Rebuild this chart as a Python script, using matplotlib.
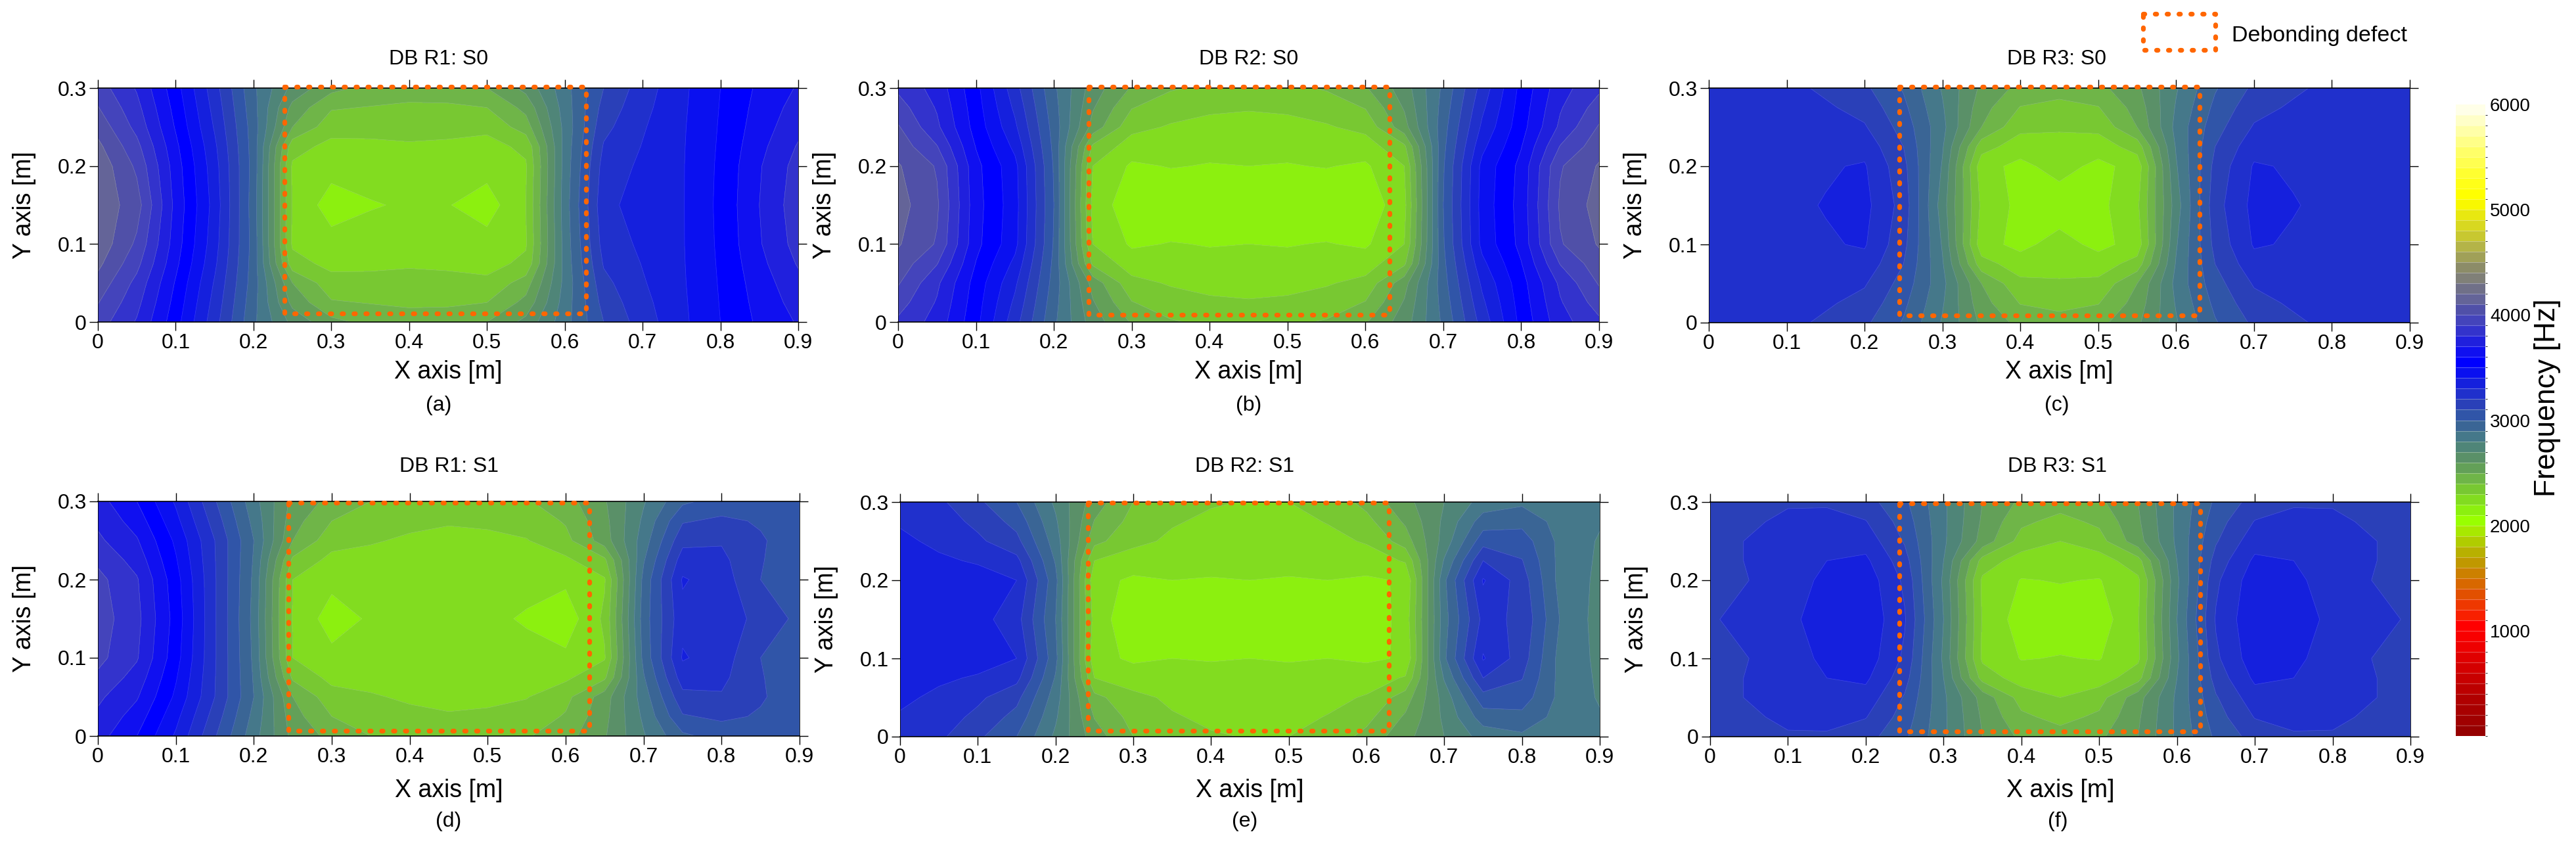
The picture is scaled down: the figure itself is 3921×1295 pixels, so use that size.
import numpy as np
import matplotlib
matplotlib.use("Agg")
import matplotlib.pyplot as plt
from matplotlib.colors import ListedColormap, BoundaryNorm
from matplotlib.lines import Line2D

plt.rcParams["font.family"] = ["Liberation Sans", "DejaVu Sans"]

W, H = 3921, 1295

# read-off grid, y rows are mirrored about y = 0.15
x_grid = [0, 0.05, 0.1, 0.15, 0.2, 0.25, 0.3, 0.35, 0.4, 0.45, 0.5, 0.55, 0.6, 0.65, 0.7, 0.75, 0.8, 0.85, 0.9]
y_grid = [0, 0.025, 0.05, 0.075, 0.1, 0.15, 0.2, 0.225, 0.25, 0.275, 0.3]

r1_s0 = [
    [3950, 3790, 3540, 3240, 2920, 2670, 2530, 2470, 2440, 2450, 2500, 2630, 2860, 3100, 3250, 3375, 3500, 3620, 3710],
    [4005, 3830, 3565, 3265, 2935, 2570, 2410, 2395, 2385, 2385, 2400, 2530, 2845, 3135, 3270, 3380, 3505, 3635, 3740],
    [4065, 3870, 3590, 3290, 2950, 2500, 2340, 2330, 2330, 2325, 2320, 2450, 2830, 3170, 3290, 3385, 3510, 3650, 3770],
    [4125, 3930, 3625, 3320, 2955, 2340, 2270, 2280, 2290, 2285, 2270, 2320, 2835, 3210, 3305, 3388, 3515, 3670, 3810],
    [4170, 3980, 3650, 3340, 2960, 2285, 2240, 2260, 2270, 2260, 2240, 2290, 2840, 3240, 3320, 3390, 3520, 3690, 3840],
    [4170, 4045, 3670, 3360, 2950, 2290, 2150, 2190, 2215, 2205, 2150, 2300, 2850, 3270, 3345, 3390, 3525, 3700, 3860],
]
r2_s0 = [
    [3880, 3760, 3530, 3240, 2920, 2650, 2490, 2410, 2380, 2370, 2380, 2410, 2490, 2650, 2920, 3240, 3530, 3760, 3880],
    [3945, 3790, 3545, 3280, 2940, 2610, 2405, 2345, 2320, 2310, 2320, 2345, 2405, 2610, 2940, 3280, 3545, 3790, 3945],
    [4010, 3820, 3560, 3320, 2960, 2560, 2330, 2290, 2265, 2255, 2265, 2290, 2330, 2560, 2960, 3320, 3560, 3820, 4010],
    [4060, 3905, 3595, 3375, 2975, 2380, 2250, 2240, 2225, 2220, 2225, 2240, 2250, 2380, 2975, 3375, 3595, 3905, 4060],
    [4110, 3990, 3630, 3430, 2990, 2300, 2185, 2205, 2195, 2200, 2195, 2205, 2185, 2300, 2990, 3430, 3630, 3990, 4110],
    [4140, 4015, 3640, 3440, 3000, 2270, 2130, 2120, 2110, 2110, 2110, 2120, 2130, 2270, 3000, 3440, 3640, 4015, 4140],
]
r3_s0 = [
    [3250, 3250, 3230, 3180, 3120, 2990, 2790, 2580, 2470, 2440, 2470, 2580, 2790, 2990, 3120, 3180, 3230, 3250, 3250],
    [3255, 3255, 3245, 3215, 3165, 3025, 2810, 2540, 2395, 2370, 2395, 2540, 2810, 3025, 3165, 3215, 3245, 3255, 3255],
    [3260, 3260, 3260, 3250, 3210, 3060, 2830, 2500, 2325, 2315, 2325, 2500, 2830, 3060, 3210, 3250, 3260, 3260, 3260],
    [3265, 3265, 3270, 3270, 3265, 3100, 2810, 2340, 2250, 2255, 2250, 2340, 2810, 3100, 3265, 3270, 3270, 3265, 3265],
    [3270, 3270, 3280, 3290, 3310, 3130, 2790, 2240, 2170, 2245, 2170, 2240, 2790, 3130, 3310, 3290, 3280, 3270, 3270],
    [3270, 3270, 3280, 3305, 3330, 3160, 2750, 2280, 2170, 2130, 2170, 2280, 2750, 3160, 3330, 3305, 3280, 3270, 3270],
]
r1_s1 = [
    [3740, 3600, 3385, 3110, 2840, 2570, 2470, 2400, 2370, 2360, 2370, 2390, 2460, 2590, 2790, 2980, 3040, 3060, 3050],
    [3780, 3655, 3430, 3155, 2870, 2540, 2400, 2350, 2325, 2310, 2320, 2340, 2410, 2570, 2820, 3090, 3120, 3090, 3050],
    [3820, 3710, 3480, 3200, 2900, 2500, 2340, 2310, 2285, 2270, 2275, 2295, 2370, 2550, 2850, 3170, 3190, 3110, 3050],
    [3880, 3760, 3510, 3205, 2890, 2380, 2270, 2265, 2255, 2250, 2250, 2255, 2280, 2380, 2890, 3250, 3225, 3105, 3055],
    [3930, 3810, 3540, 3210, 2880, 2300, 2230, 2240, 2240, 2235, 2235, 2230, 2220, 2290, 2930, 3310, 3250, 3100, 3060],
    [3950, 3830, 3560, 3210, 2870, 2290, 2150, 2215, 2230, 2230, 2220, 2190, 2140, 2320, 2950, 3270, 3290, 3150, 3080],
]
r2_s1 = [
    [3260, 3220, 3120, 3000, 2780, 2550, 2400, 2340, 2310, 2295, 2300, 2340, 2430, 2570, 2700, 2840, 2880, 2850, 2830],
    [3290, 3250, 3175, 3065, 2815, 2495, 2365, 2310, 2280, 2265, 2270, 2305, 2370, 2515, 2720, 2950, 2970, 2860, 2810],
    [3320, 3280, 3220, 3130, 2850, 2430, 2330, 2280, 2250, 2240, 2245, 2270, 2310, 2450, 2740, 3060, 3050, 2870, 2790],
    [3330, 3315, 3290, 3230, 2890, 2300, 2245, 2235, 2225, 2220, 2220, 2235, 2250, 2310, 2810, 3200, 3105, 2865, 2785],
    [3340, 3340, 3340, 3300, 2930, 2230, 2185, 2200, 2195, 2200, 2195, 2200, 2185, 2210, 2880, 3310, 3150, 2860, 2780],
    [3350, 3350, 3340, 3240, 2900, 2260, 2120, 2130, 2130, 2130, 2130, 2120, 2130, 2240, 2860, 3230, 3180, 2890, 2760],
]
r3_s1 = [
    [3130, 3160, 3190, 3190, 3140, 3020, 2820, 2600, 2480, 2440, 2480, 2600, 2820, 3020, 3140, 3190, 3190, 3160, 3130],
    [3150, 3185, 3220, 3225, 3205, 3055, 2820, 2585, 2420, 2370, 2420, 2585, 2820, 3055, 3205, 3225, 3220, 3185, 3150],
    [3170, 3205, 3250, 3260, 3260, 3090, 2820, 2560, 2360, 2300, 2360, 2560, 2820, 3090, 3260, 3260, 3250, 3205, 3170],
    [3170, 3205, 3255, 3300, 3320, 3140, 2800, 2360, 2250, 2240, 2250, 2360, 2800, 3140, 3320, 3300, 3255, 3205, 3170],
    [3170, 3200, 3260, 3320, 3360, 3180, 2780, 2280, 2195, 2205, 2195, 2280, 2780, 3180, 3360, 3320, 3260, 3200, 3170],
    [3190, 3230, 3270, 3360, 3380, 3210, 2800, 2290, 2150, 2150, 2150, 2290, 2800, 3210, 3380, 3360, 3270, 3230, 3190],
]

titles = ["DB R1: S0", "DB R2: S0", "DB R3: S0", "DB R1: S1", "DB R2: S1", "DB R3: S1"]
letters = ["(a)", "(b)", "(c)", "(d)", "(e)", "(f)"]
fields = [r1_s0, r2_s0, r3_s0, r1_s1, r2_s1, r3_s1]

# defect box per panel: x0, x1, y0, y1
defect_boxes = [
    (0.240, 0.627, 0.011, 0.3015),
    (0.2447, 0.631, 0.009, 0.302),
    (0.2445, 0.630, 0.009, 0.302),
    (0.244, 0.630, 0.007, 0.2985),
    (0.2415, 0.6285, 0.0073, 0.2995),
    (0.2435, 0.6295, 0.007, 0.2985),
]

x_ticks = [0, 0.1, 0.2, 0.3, 0.4, 0.5, 0.6, 0.7, 0.8, 0.9]
x_labels = ["0", "0.1", "0.2", "0.3", "0.4", "0.5", "0.6", "0.7", "0.8", "0.9"]
y_ticks = [0, 0.1, 0.2, 0.3]
y_labels = ["0", "0.1", "0.2", "0.3"]

cbar_ticks = [1000, 2000, 3000, 4000, 5000, 6000]
levels = list(range(0, 6100, 100))

# one colour per 100 Hz band, from 0 up
band_colors = [
    "#960000", "#a00000", "#a80000", "#b00000", "#bc0000", "#c80000", "#d40000", "#e00000", "#ee0000", "#f80000",
    "#ff0000", "#f82000", "#ee3800", "#e25000", "#d86800", "#cc8000", "#c09800", "#b8b000", "#b0cc00", "#a8e800",
    "#99ff00", "#8cf00f", "#82dc20", "#78c832", "#6fb548", "#63a058", "#5a9068", "#4f8578", "#45788a", "#3a6595",
    "#3055a8", "#2a40b8", "#2030cc", "#1520dd", "#0a10f0", "#0000ff", "#1010f0", "#2020dd", "#3333cc", "#4444bb",
    "#5050a8", "#646498", "#707088", "#808078", "#8c8c68", "#a0a058", "#b4b448", "#c8c830", "#d8d820", "#e8e810",
    "#f8f800", "#ffff00", "#ffff18", "#ffff30", "#ffff50", "#ffff68", "#ffff88", "#ffffa8", "#ffffc8", "#ffffe8",
]
cmap = ListedColormap(band_colors)
norm = BoundaryNorm(levels, cmap.N)

ORANGE = "#ff6600"
FS = 23
FS_AXIS = 27


def px_rect(x0, x1, y0, y1):
    return [x0 / W, 1 - y1 / H, (x1 - x0) / W, (y1 - y0) / H]


# axes boxes in pixels: left, right, top, bottom
boxes = [
    (149, 1215, 134, 490),
    (1367, 2434, 134, 490),
    (2601, 3668, 134, 491),
    (149, 1217, 763, 1120),
    (1370, 2435, 764, 1121),
    (2603, 3669, 764, 1121),
]
# title and letter sit a little off the axes centre in some panels
title_shift = [-14, 0, -4, 0, -8, -4]

fig = plt.figure(figsize=(W / 100, H / 100), dpi=100)


def dotted(xs, ys, **kw):
    return Line2D(xs, ys, color=ORANGE, lw=5.2, dashes=(0.3, 2.2), dash_capstyle="round", **kw)


for i, (rows, box) in enumerate(zip(fields, boxes)):
    l, r, t, b = box
    ax = fig.add_axes(px_rect(l, r, t, b))
    z = np.array(rows, dtype=float)
    z = np.vstack([z, z[-2::-1]])
    cs = ax.contourf(x_grid, y_grid, z, levels=levels, cmap=cmap, norm=norm)
    ax.contour(x_grid, y_grid, z, levels=levels, colors="white", linewidths=0.5, alpha=0.2)
    ax.set_xlim(0, 0.9)
    ax.set_ylim(0, 0.3)
    ax.set_xticks(x_ticks)
    ax.set_xticklabels(x_labels)
    ax.set_yticks(y_ticks)
    ax.set_yticklabels(y_labels)
    ax.tick_params(axis="both", which="major", direction="out", length=9.5, width=1, labelsize=FS,
                   top=True, right=True, pad=3)
    for side in ["left", "right"]:
        ax.spines[side].set_linewidth(0.6)
    for side in ["top", "bottom"]:
        ax.spines[side].set_linewidth(1.2)

    x0, x1, y0, y1 = defect_boxes[i]
    ax.add_line(dotted([x0, x1, x1, x0, x0], [y1, y1, y0, y0, y1], clip_on=False, zorder=5))

    cx = (l + r) / 2
    row0 = i < 3
    fig.text((cx + title_shift[i]) / W, 1 - (90 if row0 else 710) / H, titles[i], fontsize=FS, ha="center", va="center")
    fig.text(cx / W, 1 - (566 if row0 else 1203) / H, "X axis [m]", fontsize=FS_AXIS, ha="center", va="center")
    fig.text((cx + title_shift[i]) / W, 1 - (617 if row0 else 1250) / H, letters[i], fontsize=FS, ha="center", va="center")
    fig.text((l - 112) / W, 1 - ((t + b) / 2) / H, "Y axis [m]", fontsize=FS_AXIS, rotation=90,
             ha="center", va="center")

# colourbar
cax = fig.add_axes(px_rect(3738, 3783, 159, 1120))
cb = fig.colorbar(cs, cax=cax, ticks=cbar_ticks, spacing="proportional", drawedges=True)
cb.dividers.set_color("white")
cb.dividers.set_alpha(0.3)
cb.dividers.set_linewidth(0.8)
cb.outline.set_visible(False)
cb.set_ticklabels([str(v) for v in cbar_ticks])
cax.tick_params(length=0, labelsize=20, pad=5)
fig.text(3878 / W, 1 - 605 / H, "Frequency [Hz]", fontsize=32, rotation=90, ha="center", va="center")

# legend
lx0, lx1, ly0, ly1 = 3262 / W, 3372 / W, 1 - 21 / H, 1 - 76 / H
fig.add_artist(dotted([lx0, lx1, lx1, lx0, lx0], [ly0, ly0, ly1, ly1, ly0], transform=fig.transFigure))
fig.text(3397 / W, 1 - 55 / H, "Debonding defect", fontsize=24.5, ha="left", va="center")

fig.savefig("out.png", dpi=100)
